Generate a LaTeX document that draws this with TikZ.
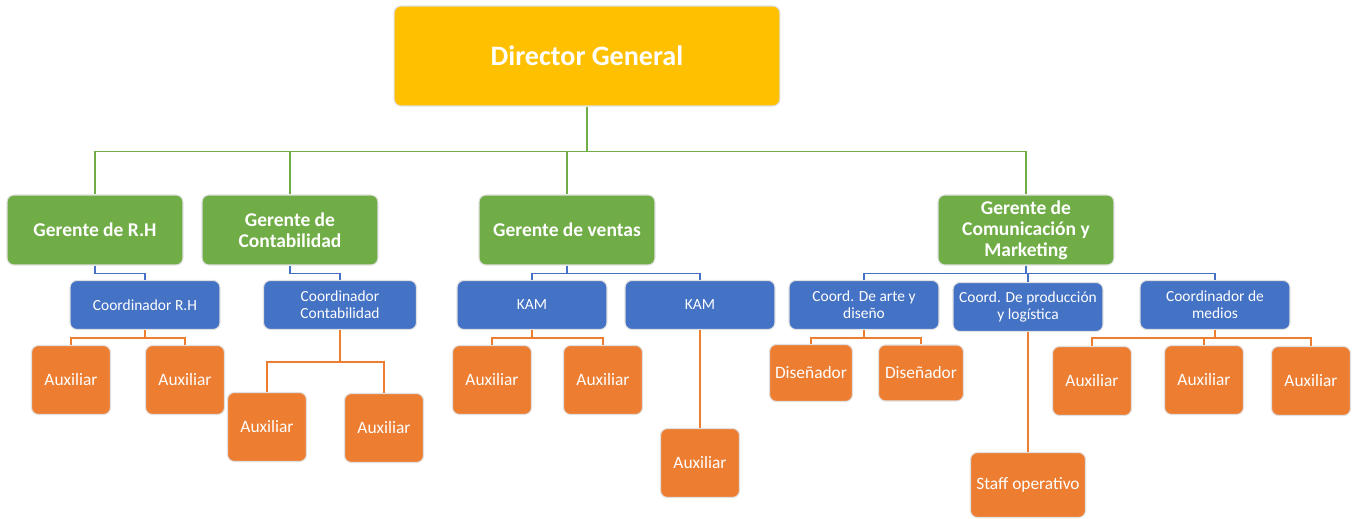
\documentclass[tikz,border=0pt]{standalone}
\usepackage{fontspec}
\setmainfont{Carlito}
\usetikzlibrary{positioning}
\definecolor{gold}{RGB}{255,192,0}
\definecolor{leaf}{RGB}{112,173,71}
\definecolor{steel}{RGB}{68,114,196}
\definecolor{tangerine}{RGB}{237,125,49}
\begin{document}
\begin{tikzpicture}[x=0.02cm,y=-0.02cm,
    box/.style={rectangle,draw=black!12,line width=0.6pt,rounded corners=4pt,align=center,text=white,inner sep=1pt},
    topbox/.style={box,fill=gold,minimum width=7.72cm,minimum height=2cm,font=\fontsize{16}{19}\selectfont\bfseries},
    mgrbox/.style={box,fill=leaf,minimum width=3.52cm,minimum height=1.4cm,font=\fontsize{11.1}{12}\selectfont\bfseries},
    crdbox/.style={box,fill=steel,minimum width=3cm,minimum height=0.98cm,font=\fontsize{8.8}{9.7}\selectfont},
    auxbox/.style={box,fill=tangerine,minimum width=1.58cm,minimum height=1.38cm,font=\fontsize{9.9}{12}\selectfont},
    gline/.style={draw=leaf,line width=0.8pt},
    bline/.style={draw=steel,line width=0.8pt},
    oline/.style={draw=tangerine,line width=0.8pt}]
    \useasboundingbox (0,0) rectangle (1353,519);

    \node[topbox] at (587,56) (dg) {Director General};

    % Gerentes
    \node[mgrbox] at (95,230) (grh) {Gerente de R.H};
    \node[mgrbox] at (290,230) (gcont) {Gerente de\\Contabilidad};
    \node[mgrbox] at (567,230) (gvent) {Gerente de ventas};
    \node[mgrbox] at (1026,230) (gcom) {Gerente de\\Comunicación y\\Marketing};

    % Coordinadores
    \node[crdbox] at (145,305) (crh) {Coordinador R.H};
    \node[crdbox,minimum width=3.06cm] at (340,305) (ccont) {Coordinador\\Contabilidad};
    \node[crdbox] at (532,305) (kamA) {KAM};
    \node[crdbox] at (700,305) (kamB) {KAM};
    \node[crdbox] at (864,305) (carte) {Coord. De arte y\\diseño};
    \node[crdbox] at (1028,307) (cprod) {Coord. De producción\\y logística};
    \node[crdbox] at (1215,305) (cmed) {Coordinador de\\medios};

    % Auxiliares
    \node[auxbox] at (71,380) (auxA) {Auxiliar};
    \node[auxbox] at (185,380) (auxB) {Auxiliar};
    \node[auxbox] at (267,427) (auxC) {Auxiliar};
    \node[auxbox] at (384,428) (auxD) {Auxiliar};
    \node[auxbox] at (492,380) (auxE) {Auxiliar};
    \node[auxbox] at (603,380) (auxF) {Auxiliar};
    \node[auxbox] at (700,463) (auxG) {Auxiliar};
    \node[auxbox,minimum width=1.66cm,minimum height=1.14cm] at (811,373) (disA) {Diseñador};
    \node[auxbox,minimum width=1.7cm,minimum height=1.12cm] at (921,373) (disB) {Diseñador};
    \node[auxbox,minimum width=2.3cm,minimum height=1.3cm] at (1028,485) (staff) {Staff operativo};
    \node[auxbox] at (1092,381) (auxH) {Auxiliar};
    \node[auxbox] at (1204,380) (auxI) {Auxiliar};
    \node[auxbox] at (1311,381) (auxJ) {Auxiliar};

    % Lineas
    \foreach \g in {grh,gcont,gvent,gcom}
        \draw[gline] (dg.south) -- ++(0,45) -| (\g.north);
    \draw[bline] (grh.south) -- ++(0,8) -| (crh.north);
    \draw[bline] (gcont.south) -- ++(0,8) -| (ccont.north);
    \foreach \c in {kamA,kamB}
        \draw[bline] (gvent.south) -- ++(0,8) -| (\c.north);
    \foreach \c in {carte,cprod,cmed}
        \draw[bline] (gcom.south) -- ++(0,8) -| (\c.north);
    \foreach \a in {auxA,auxB}
        \draw[oline] (crh.south) -- ++(0,8) -| (\a.north);
    \foreach \a in {auxC,auxD}
        \draw[oline] (ccont.south) -- ++(0,32) -| (\a.north);
    \foreach \a in {auxE,auxF}
        \draw[oline] (kamA.south) -- ++(0,8) -| (\a.north);
    \draw[oline] (kamB.south) -- (auxG.north);
    \foreach \a in {disA,disB}
        \draw[oline] (carte.south) -- ++(0,8) -| (\a.north);
    \draw[oline] (cprod.south) -- (staff.north);
    \foreach \a in {auxH,auxI,auxJ}
        \draw[oline] (cmed.south) -- ++(0,8) -| (\a.north);
\end{tikzpicture}
\end{document}
